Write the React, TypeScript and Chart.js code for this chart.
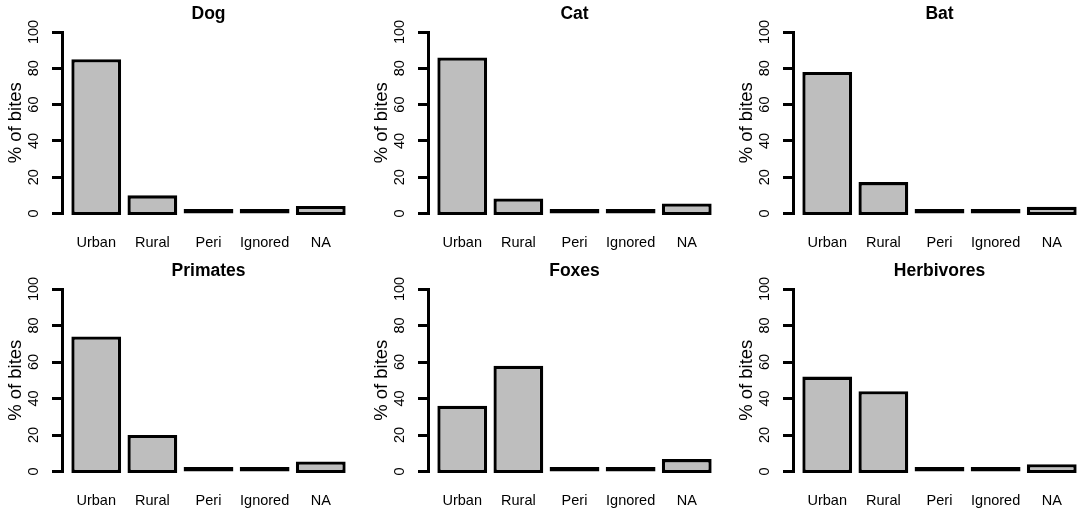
import React, { useEffect, useRef } from 'react';
import Chart from 'chart.js/auto';

// bite location categories (x axis)
const zones = ['Urban', 'Rural', 'Peri', 'Ignored', 'NA'];

// % of bites per location, one array per species group
const dogBites = [85, 10, 1, 0.3, 4.2];
const catBites = [86, 8.3, 1, 0.3, 5.5];
const batBites = [78, 17.3, 0.3, 1, 3.7];
const primateBites = [74, 20, 0.5, 0.5, 5.5];
const foxBites = [36, 58, 0.5, 0.5, 6.8];
const herbivoreBites = [52, 44, 0.5, 0.5, 4];

const panelTitles = ['Dog', 'Cat', 'Bat', 'Primates', 'Foxes', 'Herbivores'];
const panelValues = [dogBites, catBites, batBites, primateBites, foxBites, herbivoreBites];

const FONT = "'Liberation Sans', Arial, Helvetica, sans-serif";

// R barplot geometry: bar width 1, space 0.2, 4% axis extension
const barCenters = zones.map((_, i) => 0.7 + 1.2 * i);
const xMin = 0.2 - 0.04 * 5.8;
const xMax = 6.0 + 0.04 * 5.8;

interface PanelProps {
  title: string;
  values: number[];
  left: number;
  top: number;
  width: number;
  height: number;
}

const Panel: React.FC<PanelProps> = ({ title, values, left, top, width, height }) => {
  const canvasRef = useRef<HTMLCanvasElement>(null);

  useEffect(() => {
    if (!canvasRef.current) return;
    const chart = new Chart(canvasRef.current, {
      type: 'bar',
      data: {
        datasets: [
          {
            data: values.map((v, i) => ({ x: barCenters[i], y: v })),
            backgroundColor: '#bebebe',
            borderColor: '#000',
            borderWidth: 3.3,
            borderSkipped: false,
            base: -0.8, // R strokes straddle the zero line
            minBarLength: 4.5,
            categoryPercentage: 1,
            barPercentage: 0.887,
            clip: false,
          },
        ],
      },
      options: {
        responsive: true,
        maintainAspectRatio: false,
        animation: false,
        layout: { padding: { left: 0, right: 11, top: 0, bottom: 5 } },
        plugins: {
          legend: { display: false },
          tooltip: { enabled: false },
          title: {
            display: true,
            text: title,
            fullSize: false,
            color: '#000',
            font: { family: FONT, size: 17.5, weight: 'bold', lineHeight: 1.2 },
            padding: { top: 3.5, bottom: 7.5 },
          },
        },
        scales: {
          x: {
            type: 'linear',
            min: xMin,
            max: xMax,
            bounds: 'data',
            offset: false,
            grid: { display: false, drawTicks: false, offset: false },
            border: { display: false },
            afterBuildTicks: (scale) => {
              scale.ticks = barCenters.map((value) => ({ value }));
            },
            afterFit: (scale) => {
              scale.height = 38.5;
            },
            ticks: {
              autoSkip: false,
              maxRotation: 0,
              padding: 21,
              color: '#000',
              font: { family: FONT, size: 14.5 },
              callback: (_value, index) => zones[index],
            },
          },
          y: {
            min: 0,
            max: 100,
            afterFit: (scale) => {
              scale.width = 62;
              scale.paddingTop = 0;
              scale.paddingBottom = 0;
            },
            grid: {
              drawOnChartArea: false,
              drawTicks: true,
              tickLength: 10,
              lineWidth: 3,
              color: '#000',
            },
            border: { display: true, width: 3, color: '#000' },
            ticks: {
              stepSize: 20,
              minRotation: 90,
              maxRotation: 90,
              crossAlign: 'center',
              padding: 6,
              color: '#000',
              font: { family: FONT, size: 14.5 },
            },
            title: {
              display: true,
              text: '% of bites',
              color: '#000',
              font: { family: FONT, size: 18.5, lineHeight: 1.2 },
              padding: { top: 5, bottom: 0 },
            },
          },
        },
      },
    });

    return () => {
      chart.destroy();
    };
  }, [title, values]);

  return (
    <div style={{ position: 'absolute', left, top, width, height }}>
      <canvas ref={canvasRef} />
    </div>
  );
};

const App: React.FC = () => {
  const colLeft = [0, 366, 731];
  const rowTop = [0, 257];
  const rowHeight = [257, 258];

  return (
    <div
      style={{
        position: 'fixed',
        left: 0,
        top: 0,
        width: 1084,
        height: 515,
        overflow: 'hidden',
        background: '#fff',
      }}
    >
      {panelTitles.map((t, i) => (
        <Panel
          key={t}
          title={t}
          values={panelValues[i]}
          left={colLeft[i % 3]}
          top={rowTop[Math.floor(i / 3)]}
          width={366}
          height={rowHeight[Math.floor(i / 3)]}
        />
      ))}
    </div>
  );
};

export default App;
